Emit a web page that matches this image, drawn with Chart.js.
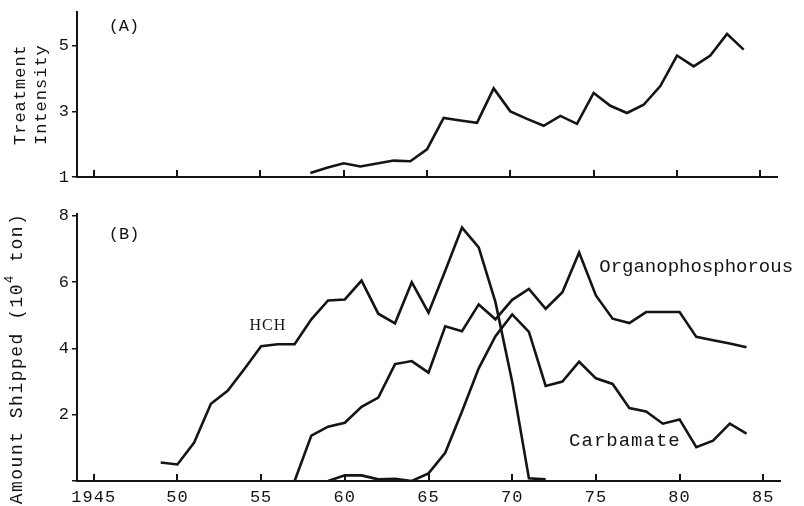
<!DOCTYPE html>
<html>
<head>
<meta charset="utf-8">
<script src="https://cdn.jsdelivr.net/npm/chart.js@4.4.1/dist/chart.umd.min.js"></script>
<style>
  body { margin: 0; background: #fff; }
  #wrap { position: relative; width: 804px; height: 506px; }
  .panel { position: absolute; left: 0; width: 804px; }
  #panelA { top: 0; height: 190px; }
  #panelB { top: 190px; height: 316px; }
</style>
</head>
<body>
<div id="wrap">
  <div class="panel" id="panelA"><canvas id="chartA"></canvas></div>
  <div class="panel" id="panelB"><canvas id="chartB"></canvas></div>
</div>
<script>
// x axis ticks (years)
const tickYears = [1945, 1950, 1955, 1960, 1965, 1970, 1975, 1980, 1985];
const ticksA = [1, 3, 5];
const ticksB = [0, 2, 4, 6, 8];

// (A) treatment intensity
const intensityYears = [1958, 1959, 1960, 1961, 1962, 1963, 1964, 1965, 1966, 1967, 1968, 1969, 1970, 1971,
  1972, 1973, 1974, 1975, 1976, 1977, 1978, 1979, 1980, 1981, 1982, 1983, 1984];
const intensityValues = [1.12, 1.28, 1.42, 1.32, 1.41, 1.5, 1.48, 1.84, 2.8, 2.72, 2.65, 3.7, 3.0, 2.77,
  2.56, 2.86, 2.62, 3.56, 3.17, 2.95, 3.2, 3.77, 4.7, 4.37, 4.7, 5.36, 4.88];

// (B) amount shipped, 10^4 ton
const hchYears = [1949, 1950, 1951, 1952, 1953, 1954, 1955, 1956, 1957, 1958, 1959, 1960, 1961, 1962,
  1963, 1964, 1965, 1966, 1967, 1968, 1969, 1970, 1971, 1972];
const hchValues = [0.56, 0.5, 1.16, 2.33, 2.72, 3.38, 4.07, 4.13, 4.13, 4.88, 5.45, 5.48, 6.05, 5.05,
  4.76, 6.0, 5.08, 6.35, 7.65, 7.05, 5.4, 3.0, 0.08, 0.05];

const opYears = [1957, 1958, 1959, 1960, 1961, 1962, 1963, 1964, 1965, 1966, 1967, 1968, 1969, 1970,
  1971, 1972, 1973, 1974, 1975, 1976, 1977, 1978, 1979, 1980, 1981, 1982, 1983, 1984];
const opValues = [0, 1.37, 1.64, 1.76, 2.24, 2.52, 3.53, 3.62, 3.27, 4.67, 4.52, 5.33, 4.88, 5.47,
  5.8, 5.2, 5.7, 6.9, 5.6, 4.9, 4.77, 5.1, 5.1, 5.1, 4.35, 4.25, 4.15, 4.04];

const carbYears = [1959, 1960, 1961, 1962, 1963, 1964, 1965, 1966, 1967, 1968, 1969, 1970, 1971, 1972,
  1973, 1974, 1975, 1976, 1977, 1978, 1979, 1980, 1981, 1982, 1983, 1984];
const carbValues = [0, 0.17, 0.17, 0.05, 0.07, 0, 0.23, 0.85, 2.1, 3.4, 4.37, 5.03, 4.5, 2.87,
  3.0, 3.6, 3.1, 2.93, 2.2, 2.1, 1.73, 1.86, 1.02, 1.22, 1.73, 1.43];

const ink = "#141414";
const mono = "'Liberation Mono', 'DejaVu Sans Mono', monospace";

function toPoints(years, values) {
  return years.map((yr, i) => ({ x: yr, y: values[i] }));
}

function lineSet(label, points) {
  return {
    label: label,
    data: points,
    borderColor: ink,
    borderWidth: 2.6,
    pointRadius: 0,
    tension: 0,
    fill: false
  };
}

// tick marks on the x axis point inward, and the typewriter letter spacing
const paperStyle = {
  id: "paperStyle",
  beforeDraw(chart) {
    chart.ctx.letterSpacing = "1px";
  },
  afterDraw(chart, args, opts) {
    const ctx = chart.ctx;
    const xScale = chart.scales.x;
    const bottom = chart.chartArea.bottom;
    ctx.save();
    ctx.letterSpacing = "0px";
    ctx.strokeStyle = ink;
    ctx.lineWidth = 2;
    tickYears.forEach(function(yr) {
      const px = Math.round(xScale.getPixelForValue(yr));
      ctx.beginPath();
      ctx.moveTo(px, bottom);
      ctx.lineTo(px, bottom - 7);
      ctx.stroke();
    });

    ctx.fillStyle = ink;
    ctx.textBaseline = "middle";
    (opts.labels || []).forEach(function(lab) {
      ctx.font = lab.font;
      ctx.letterSpacing = lab.spacing || "0px";
      ctx.textAlign = "left";
      ctx.fillText(lab.text, xScale.getPixelForValue(lab.x), chart.scales.y.getPixelForValue(lab.y));
    });

    // rotated y axis title
    const t = opts.title;
    if (t) {
      const cy = (chart.chartArea.top + chart.chartArea.bottom) / 2 + (t.shift || 0);
      ctx.font = t.font;
      ctx.letterSpacing = t.spacing || "0px";
      t.lines.forEach(function(line, i) {
        ctx.save();
        ctx.translate(t.x + i * t.lineGap, cy);
        ctx.rotate(-Math.PI / 2);
        // line is a list of [text, superscript?]
        let total = 0;
        line.forEach(function(part) {
          ctx.font = part[1] ? t.supFont : t.font;
          total += ctx.measureText(part[0]).width;
        });
        let pos = -total / 2;
        line.forEach(function(part) {
          ctx.font = part[1] ? t.supFont : t.font;
          ctx.fillText(part[0], pos, part[1] ? -7 : 0);
          pos += ctx.measureText(part[0]).width;
        });
        ctx.restore();
      });
    }
    ctx.restore();
  }
};

function makeOptions(cfg) {
  return {
    responsive: true,
    maintainAspectRatio: false,
    animation: false,
    layout: { padding: cfg.padding },
    plugins: {
      legend: { display: false },
      tooltip: { enabled: false },
      paperStyle: { labels: cfg.labels, title: cfg.title }
    },
    scales: {
      x: {
        type: "linear",
        min: 1944,
        max: 1986,
        afterBuildTicks: function(scale) {
          scale.ticks = tickYears.map(v => ({ value: v }));
        },
        afterFit: function(scale) {
          scale.height = cfg.xHeight;
        },
        grid: { display: true, drawOnChartArea: false, drawTicks: false, color: ink },
        border: { display: true, color: ink, width: 2 },
        ticks: {
          display: cfg.xLabels,
          color: ink,
          padding: 6,
          maxRotation: 0,
          font: { family: mono, size: 17 },
          callback: function(value) {
            return value === 1945 ? "1945" : String(value).slice(2);
          }
        }
      },
      y: {
        min: cfg.yMin,
        max: cfg.yMax,
        afterBuildTicks: function(scale) {
          scale.ticks = cfg.yTicks.map(v => ({ value: v }));
        },
        afterFit: function(scale) {
          scale.width = 77;
        },
        grid: { display: true, drawOnChartArea: false, tickLength: 5, color: ink, lineWidth: 1.5 },
        border: { display: true, color: ink, width: 2 },
        ticks: {
          color: ink,
          padding: 2,
          font: { family: mono, size: 17 },
          callback: function(value) {
            return value === 0 ? "" : String(value);
          }
        }
      }
    }
  };
}

new Chart(document.getElementById("chartA"), {
  type: "line",
  data: {
    datasets: [lineSet("Treatment Intensity", toPoints(intensityYears, intensityValues))]
  },
  options: makeOptions({
    padding: { top: 10, right: 27, bottom: 0, left: 0 },
    xHeight: 13,
    xLabels: false,
    yMin: 1,
    yMax: 6.02,
    yTicks: ticksA,
    labels: [{ text: "(A)", x: 1945.9, y: 5.57, font: "17px " + mono }],
    title: {
      x: 20, lineGap: 21, shift: 0,
      font: "17px " + mono, supFont: "12px " + mono, spacing: "1px",
      lines: [[["Treatment", false]], [["Intensity", false]]]
    }
  }),
  plugins: [paperStyle]
});

new Chart(document.getElementById("chartB"), {
  type: "line",
  data: {
    datasets: [
      lineSet("HCH", toPoints(hchYears, hchValues)),
      lineSet("Organophosphorous", toPoints(opYears, opValues)),
      lineSet("Carbamate", toPoints(carbYears, carbValues))
    ]
  },
  options: makeOptions({
    padding: { top: 24, right: 24, bottom: 0, left: 0 },
    xHeight: 25,
    xLabels: true,
    yMin: 0,
    yMax: 8.06,
    yTicks: ticksB,
    labels: [
      { text: "(B)", x: 1945.9, y: 7.43, font: "17px " + mono },
      { text: "HCH", x: 1954.3, y: 4.68, font: "16px 'Liberation Serif', serif", spacing: "1px" },
      { text: "Organophosphorous", x: 1975.2, y: 6.45, font: "19px " + mono },
      { text: "Carbamate", x: 1973.4, y: 1.22, font: "19px " + mono, spacing: "1px" }
    ],
    title: {
      x: 17, lineGap: 0, shift: 11,
      font: "18px " + mono, supFont: "12px " + mono, spacing: "1.5px",
      lines: [[["Amount Shipped (10", false], ["4", true], [" ton)", false]]]
    }
  }),
  plugins: [paperStyle]
});
</script>
</body>
</html>
